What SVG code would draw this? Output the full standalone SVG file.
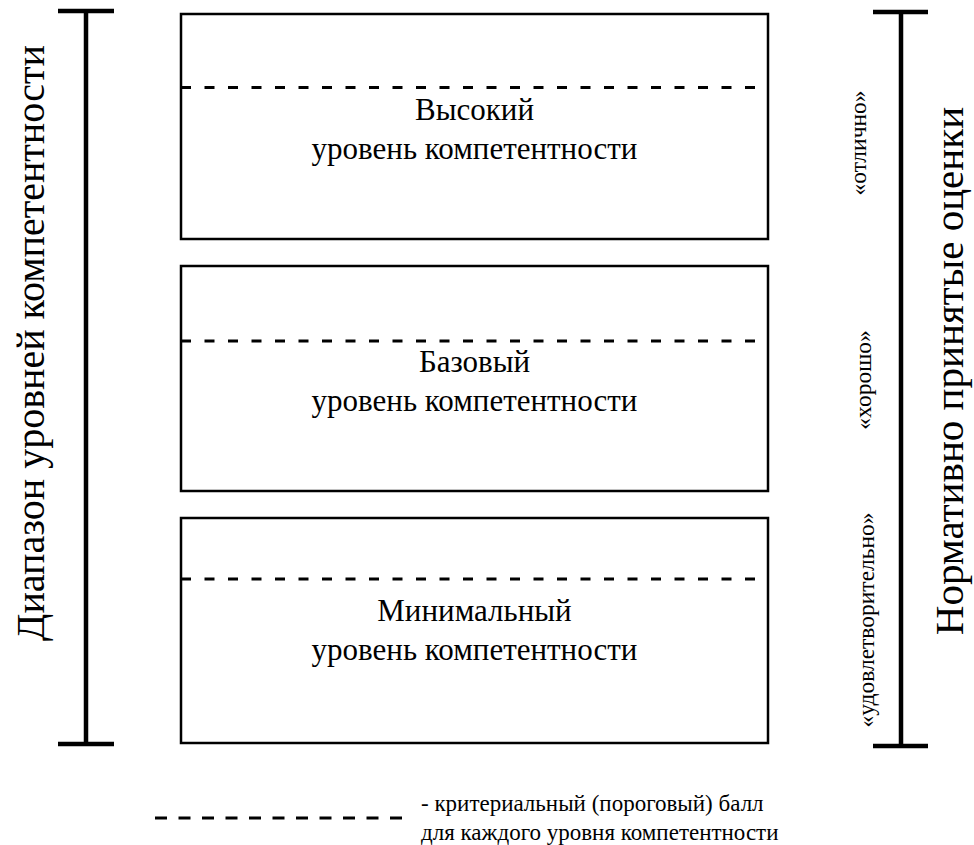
<svg xmlns="http://www.w3.org/2000/svg" width="974" height="845" viewBox="0 0 974 845">
  <style>
    .box { fill: #ffffff; stroke: #000000; stroke-width: 2.5; }
    .cut { stroke: #000000; stroke-width: 3; stroke-dasharray: 10 13.5; fill: none; }
    .bar { stroke: #000000; stroke-width: 4.5; fill: none; }
    text { font-family: 'Liberation Serif', 'DejaVu Serif', serif; fill: #000000; }
    .lbl { font-size: 31px; text-anchor: middle; }
    .axis { font-size: 40px; text-anchor: middle; }
    .axis-r { font-size: 41px; }
    .mark { font-size: 23.5px; text-anchor: middle; }
    .note { font-size: 23px; }
  </style>

  <rect width="974" height="845" fill="#ffffff"/>

  <!-- range bracket, left -->
  <g id="range-bar">
    <line class="bar" x1="86" y1="11" x2="86" y2="744"/>
    <line class="bar" x1="58" y1="11" x2="114" y2="11"/>
    <line class="bar" x1="58" y1="744" x2="114" y2="744"/>
    <text class="axis" transform="translate(44,343) rotate(-90)">Диапазон уровней компетентности</text>
  </g>

  <!-- grade bracket, right -->
  <g id="grade-bar">
    <line class="bar" x1="901" y1="12" x2="901" y2="746"/>
    <line class="bar" x1="873" y1="12" x2="928" y2="12"/>
    <line class="bar" x1="873" y1="746" x2="928" y2="746"/>
    <text class="axis axis-r" transform="translate(963,371) rotate(-90)">Нормативно принятые оценки</text>
  </g>

  <!-- grade labels -->
  <g id="grade-labels">
    <text class="mark" transform="translate(866,143) rotate(-90)">«отлично»</text>
    <text class="mark" transform="translate(871,380) rotate(-90)">«хорошо»</text>
    <text class="mark" transform="translate(874,620) rotate(-90)">«удовлетворительно»</text>
  </g>

  <g id="level-high">
    <rect class="box" x="181" y="14" width="587" height="225"/>
    <line class="cut" x1="181" y1="87.5" x2="762" y2="87.5"/>
    <text class="lbl" x="474.5" y="120">Высокий</text>
    <text class="lbl" x="474.5" y="159">уровень компетентности</text>
  </g>

  <g id="level-base">
    <rect class="box" x="181" y="266" width="587" height="225"/>
    <line class="cut" x1="181" y1="341" x2="762" y2="341"/>
    <text class="lbl" x="474.5" y="372">Базовый</text>
    <text class="lbl" x="474.5" y="411">уровень компетентности</text>
  </g>

  <g id="level-min">
    <rect class="box" x="181" y="518" width="587" height="225"/>
    <line class="cut" x1="181" y1="579" x2="762" y2="579"/>
    <text class="lbl" x="474.5" y="621">Минимальный</text>
    <text class="lbl" x="474.5" y="660">уровень компетентности</text>
  </g>

  <!-- legend -->
  <g id="legend">
    <line class="cut" x1="155" y1="818" x2="402" y2="818" style="stroke-dasharray: 12 11.5"/>
    <text class="note" x="421" y="811">- критериальный (пороговый) балл</text>
    <text class="note" x="421" y="840">для каждого уровня компетентности</text>
  </g>
</svg>
